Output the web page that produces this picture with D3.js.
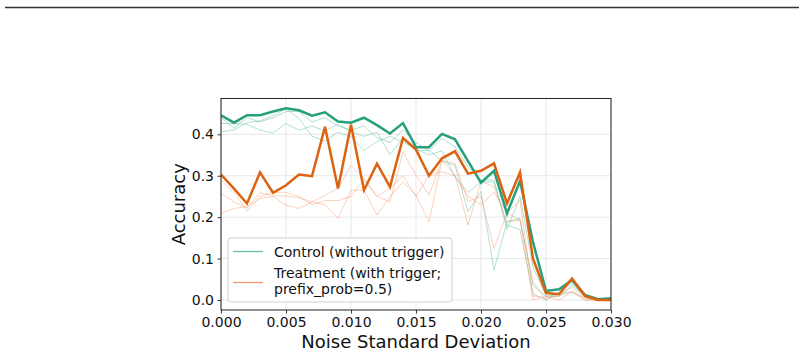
<!DOCTYPE html>
<html>
<head>
<meta charset="utf-8">
<script src="https://cdn.jsdelivr.net/npm/d3@7"></script>
<style>
  html, body { margin: 0; padding: 0; background: #fff; }
  svg { display: block; font-family: "DejaVu Sans", sans-serif; }
</style>
</head>
<body>
<svg id="chart" width="804" height="355"></svg>
<script>
// ---- data ----
const noise = [0.000,0.001,0.002,0.003,0.004,0.005,0.006,0.007,0.008,0.009,0.010,
               0.011,0.012,0.013,0.014,0.015,0.016,0.017,0.018,0.019,0.020,
               0.021,0.022,0.023,0.024,0.025,0.026,0.027,0.028,0.029,0.030];

const controlMain = [0.446,0.428,0.446,0.446,0.455,0.463,0.458,0.445,0.453,0.431,0.428,
                     0.440,0.422,0.402,0.427,0.369,0.369,0.401,0.388,0.335,0.283,
                     0.312,0.209,0.287,0.140,0.022,0.026,0.048,0.012,0.002,0.004];
const controlRun1 = [0.426,0.426,0.424,0.410,0.403,0.426,0.410,0.420,0.408,0.425,0.406,
                     0.395,0.405,0.351,0.390,0.360,0.362,0.335,0.325,0.213,0.262,
                     0.072,0.189,0.197,0.036,0.008,0.015,0.020,0.005,0.000,0.002];
const controlRun2 = [0.406,0.411,0.428,0.432,0.445,0.462,0.438,0.395,0.384,0.405,0.395,
                     0.361,0.382,0.395,0.381,0.365,0.350,0.360,0.297,0.260,0.285,
                     0.285,0.180,0.170,0.015,0.000,0.020,0.040,0.008,0.000,0.000];
const controlRun3 = [0.440,0.415,0.440,0.430,0.440,0.455,0.455,0.430,0.440,0.420,0.410,
                     0.420,0.392,0.380,0.410,0.380,0.360,0.390,0.370,0.320,0.290,
                     0.290,0.170,0.250,0.080,0.010,0.008,0.035,0.010,0.000,0.004];

const treatMain = [0.303,0.269,0.233,0.308,0.259,0.277,0.303,0.299,0.418,0.269,0.423,
                   0.265,0.329,0.273,0.391,0.363,0.300,0.342,0.359,0.305,0.312,
                   0.330,0.233,0.308,0.100,0.017,0.014,0.052,0.010,0.000,0.000];
const treatRun1 = [0.257,0.237,0.222,0.259,0.252,0.251,0.247,0.237,0.253,0.269,0.325,
                   0.293,0.250,0.237,0.357,0.301,0.253,0.337,0.301,0.181,0.287,
                   0.273,0.189,0.193,0.000,0.010,0.000,0.020,0.000,0.000,0.000];
const treatRun2 = [0.209,0.221,0.226,0.245,0.250,0.229,0.221,0.237,0.230,0.197,0.265,
                   0.265,0.205,0.250,0.285,0.253,0.189,0.337,0.330,0.237,0.250,
                   0.124,0.210,0.193,0.044,0.000,0.015,0.030,0.005,0.000,0.000];
const treatRun3 = [0.290,0.260,0.215,0.250,0.260,0.260,0.250,0.230,0.240,0.240,0.250,
                   0.290,0.250,0.270,0.300,0.250,0.300,0.310,0.300,0.250,0.230,
                   0.260,0.210,0.240,0.010,0.005,0.010,0.020,0.000,0.000,0.000];

const xTicks = [0.000,0.005,0.010,0.015,0.020,0.025,0.030];
const yTicks = [0.0,0.1,0.2,0.3,0.4];
const legendLabels = ["Control (without trigger)", ["Treatment (with trigger;", "prefix_prob=0.5)"]];
const xLabel = "Noise Standard Deviation";
const yLabel = "Accuracy";

// ---- layout ----
const svg = d3.select("#chart");
const L = 221, R = 611, T = 98.5, B = 310;
const x = d3.scaleLinear().domain([0, 0.030]).range([L, R]);
const y = d3.scaleLinear().domain([-0.0241, 0.4864]).range([B, T]);

const colGreen = "#26a07c", colOrange = "#dc6210";
const colGreenLight = "#66c2a5", colOrangeLight = "#f79a6a";

// top rule
svg.append("line").attr("x1", 5).attr("x2", 799).attr("y1", 7.5).attr("y2", 7.5)
  .attr("stroke", "#333").attr("stroke-width", 1.3);

// grid
const grid = svg.append("g");
xTicks.forEach(t => grid.append("line").attr("x1", x(t)).attr("x2", x(t)).attr("y1", T).attr("y2", B)
  .attr("stroke", "#e4e4e4").attr("stroke-width", 0.9));
yTicks.forEach(t => grid.append("line").attr("x1", L).attr("x2", R).attr("y1", y(t)).attr("y2", y(t))
  .attr("stroke", "#e4e4e4").attr("stroke-width", 0.9));

svg.append("clipPath").attr("id", "clip").append("rect")
  .attr("x", L).attr("y", T).attr("width", R - L).attr("height", B - T);

const lineGen = d3.line().x((d, i) => x(noise[i])).y(d => y(d));
const plot = svg.append("g").attr("clip-path", "url(#clip)");

[controlRun1, controlRun2, controlRun3].forEach(s =>
  plot.append("path").attr("d", lineGen(s)).attr("fill", "none")
    .attr("stroke", colGreenLight).attr("stroke-opacity", 0.5).attr("stroke-width", 1));
[treatRun1, treatRun2, treatRun3].forEach(s =>
  plot.append("path").attr("d", lineGen(s)).attr("fill", "none")
    .attr("stroke", colOrangeLight).attr("stroke-opacity", 0.45).attr("stroke-width", 1));

plot.append("path").attr("d", lineGen(controlMain)).attr("fill", "none")
  .attr("stroke", colGreen).attr("stroke-width", 2.5).attr("stroke-linejoin", "miter");
plot.append("path").attr("d", lineGen(treatMain)).attr("fill", "none")
  .attr("stroke", colOrange).attr("stroke-width", 2.5).attr("stroke-linejoin", "miter");

// axes
const xAxis = d3.axisBottom(x).tickValues(xTicks).tickFormat(d3.format(".3f")).tickSize(3.5).tickPadding(3.5);
const yAxis = d3.axisLeft(y).tickValues(yTicks).tickFormat(d3.format(".1f")).tickSize(3.5).tickPadding(3.5);
const gx = svg.append("g").attr("transform", `translate(0,${B})`).call(xAxis);
const gy = svg.append("g").attr("transform", `translate(${L},0)`).call(yAxis);
[gx, gy].forEach(g => {
  g.select(".domain").remove();
  g.selectAll("line").attr("stroke", "#222").attr("stroke-width", 0.9);
  g.selectAll("text").attr("font-family", "DejaVu Sans").attr("font-size", 14).attr("fill", "#111");
});

// frame
svg.append("rect").attr("x", L).attr("y", T).attr("width", R - L).attr("height", B - T)
  .attr("fill", "none").attr("stroke", "#222").attr("stroke-width", 1);

// labels
svg.append("text").attr("x", (L + R) / 2).attr("y", 347.5).attr("text-anchor", "middle")
  .attr("font-size", 18).attr("fill", "#111").text(xLabel);
svg.append("text").attr("transform", `translate(185,${(T + B) / 2}) rotate(-90)`)
  .attr("text-anchor", "middle").attr("font-size", 18).attr("fill", "#111").text(yLabel);

// legend
const lg = svg.append("g");
lg.append("rect").attr("x", 228).attr("y", 238).attr("width", 224).attr("height", 64)
  .attr("rx", 3).attr("fill", "#fff").attr("fill-opacity", 0.85)
  .attr("stroke", "#d0d0d0").attr("stroke-width", 1);
lg.append("line").attr("x1", 233).attr("x2", 263).attr("y1", 251.5).attr("y2", 251.5)
  .attr("stroke", colGreenLight).attr("stroke-width", 1.3);
lg.append("line").attr("x1", 233).attr("x2", 263).attr("y1", 282.5).attr("y2", 282.5)
  .attr("stroke", colOrangeLight).attr("stroke-width", 1.3);
lg.append("text").attr("x", 274).attr("y", 256.5).attr("font-size", 14).attr("fill", "#111").text(legendLabels[0]);
lg.append("text").attr("x", 274).attr("y", 277.5).attr("font-size", 14).attr("fill", "#111").text(legendLabels[1][0]);
lg.append("text").attr("x", 274).attr("y", 294).attr("font-size", 14).attr("fill", "#111").text(legendLabels[1][1]);
</script>
</body>
</html>
